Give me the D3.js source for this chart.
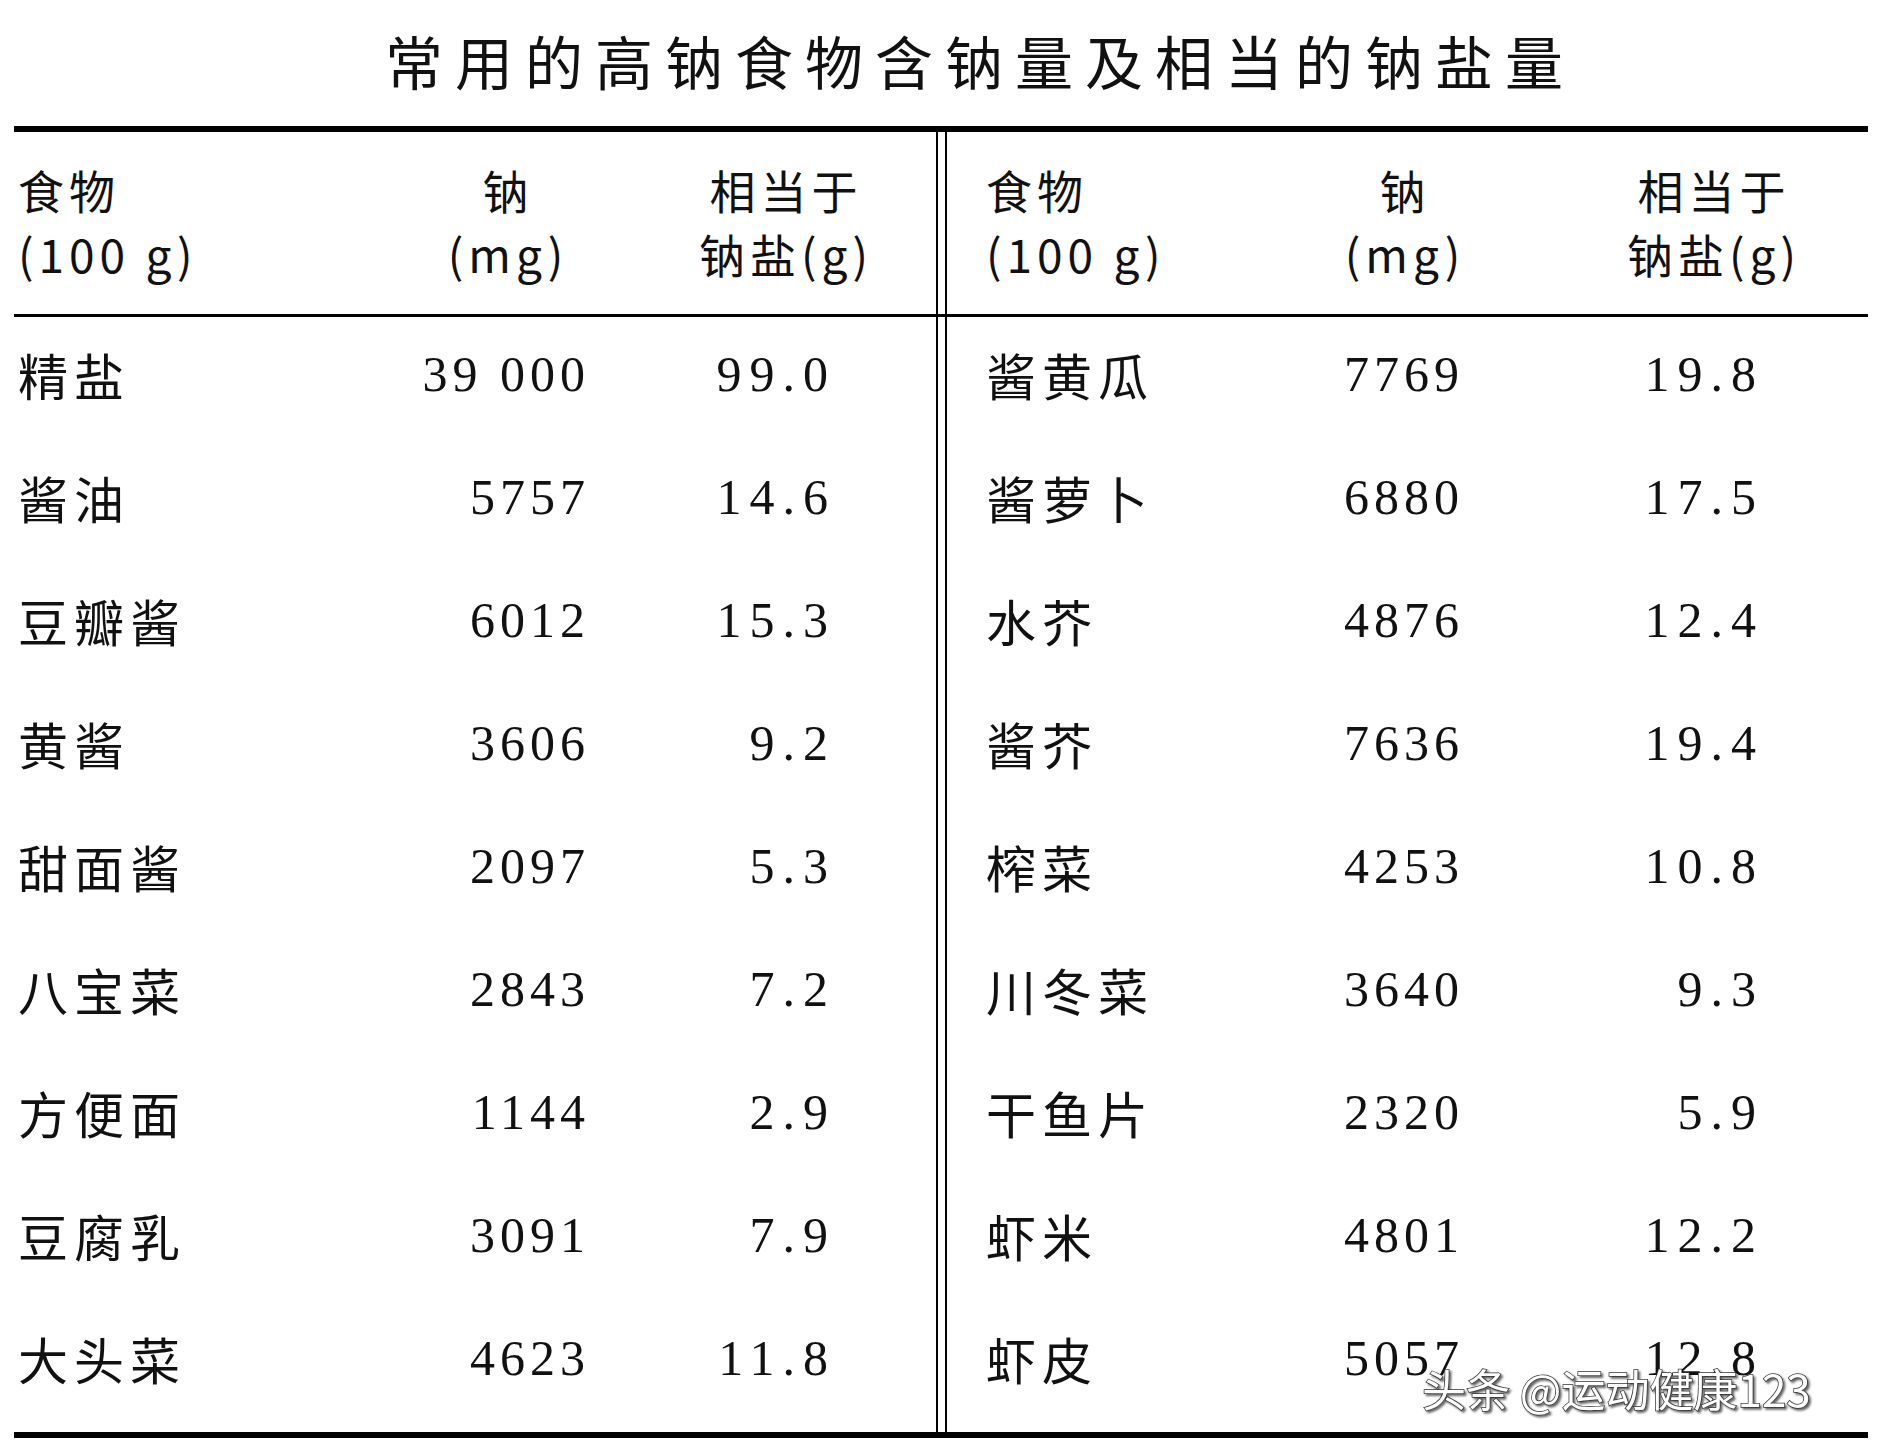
<!DOCTYPE html>
<html><head><meta charset="utf-8">
<script src="https://cdn.jsdelivr.net/npm/d3@7"></script>
<style>body{margin:0;background:#fff}</style></head>
<body><svg id="c" width="1880" height="1443"></svg>
<script>
const title = "常用的高钠食物含钠量及相当的钠盐量";
const leftFoods = ["精盐","酱油","豆瓣酱","黄酱","甜面酱","八宝菜","方便面","豆腐乳","大头菜"];
const leftSodium = ["39 000","5757","6012","3606","2097","2843","1144","3091","4623"];
const leftSalt = ["99.0","14.6","15.3","9.2","5.3","7.2","2.9","7.9","11.8"];
const rightFoods = ["酱黄瓜","酱萝卜","水芥","酱芥","榨菜","川冬菜","干鱼片","虾米","虾皮"];
const rightSodium = ["7769","6880","4876","7636","4253","3640","2320","4801","5057"];
const rightSalt = ["19.8","17.5","12.4","19.4","10.8","9.3","5.9","12.2","12.8"];
const header1 = ["食物","钠","相当于"];
const header2 = ["(100 g)","(mg)","钠盐(g)"];

const svg = d3.select("#c");
const cjk = "'Noto Sans CJK SC', sans-serif";
const num = "'Liberation Serif', 'DejaVu Serif', serif";
const y = d3.scaleBand().domain(d3.range(9)).range([306, 1426]).paddingOuter(0.05);

svg.append("text").attr("x",980).attr("y",60).attr("text-anchor","middle").attr("dominant-baseline","central")
  .attr("font-family",cjk).attr("font-size",58).attr("letter-spacing",12).attr("fill","#111").text(title);

svg.append("rect").attr("x",14).attr("y",126).attr("width",1854).attr("height",6).attr("fill","#000");
svg.append("rect").attr("x",14).attr("y",314).attr("width",1854).attr("height",3).attr("fill","#000");
svg.append("rect").attr("x",14).attr("y",1432).attr("width",1854).attr("height",6).attr("fill","#000");
svg.append("rect").attr("x",936).attr("y",129).attr("width",2).attr("height",1305).attr("fill","#000");
svg.append("rect").attr("x",945).attr("y",129).attr("width",2).attr("height",1305).attr("fill","#000");

const sides = [
  {foods:leftFoods, sod:leftSodium, salt:leftSalt, fx:18, sx:590, tx:836, hc:[18,508,786]},
  {foods:rightFoods, sod:rightSodium, salt:rightSalt, fx:986, sx:1464, tx:1764, hc:[986,1405,1714]}
];
sides.forEach(s=>{
  [header1, header2].forEach((h,ri)=>{
    h.forEach((t,i)=>{
      svg.append("text").attr("x",s.hc[i]).attr("y",ri?253:189).attr("dominant-baseline","central")
        .attr("text-anchor",i?"middle":"start").attr("font-family",cjk).attr("font-size",46)
        .attr("letter-spacing",5).attr("fill","#111").text(t);
    });
  });
  const g = svg.append("g");
  g.selectAll(".f").data(s.foods).join("text").attr("x",s.fx).attr("y",(d,i)=>y(i)+y.bandwidth()/2)
    .attr("dominant-baseline","central").attr("font-family",cjk).attr("font-size",50).attr("letter-spacing",6)
    .attr("fill","#111").text(d=>d);
  g.selectAll(".s").data(s.sod).join("text").attr("x",s.sx).attr("y",(d,i)=>y(i)+y.bandwidth()/2)
    .attr("text-anchor","end").attr("dominant-baseline","central").attr("font-family",num).attr("font-size",50)
    .attr("letter-spacing",5).attr("fill","#111").text(d=>d);
  g.selectAll(".t").data(s.salt).join("text").attr("x",s.tx).attr("y",(d,i)=>y(i)+y.bandwidth()/2)
    .attr("text-anchor","end").attr("dominant-baseline","central").attr("font-family",num).attr("font-size",50)
    .attr("letter-spacing",8).attr("fill","#111").text(d=>d);
});
svg.append("text").attr("x",1422).attr("y",1388).attr("dominant-baseline","central").attr("font-family",cjk)
  .attr("font-size",44).attr("fill","#fff").attr("stroke","#333").attr("stroke-width",1.5)
  .attr("paint-order","stroke").style("filter","drop-shadow(2px 2px 1px rgba(0,0,0,0.6))").text("头条 @运动健康123");
</script></body></html>
